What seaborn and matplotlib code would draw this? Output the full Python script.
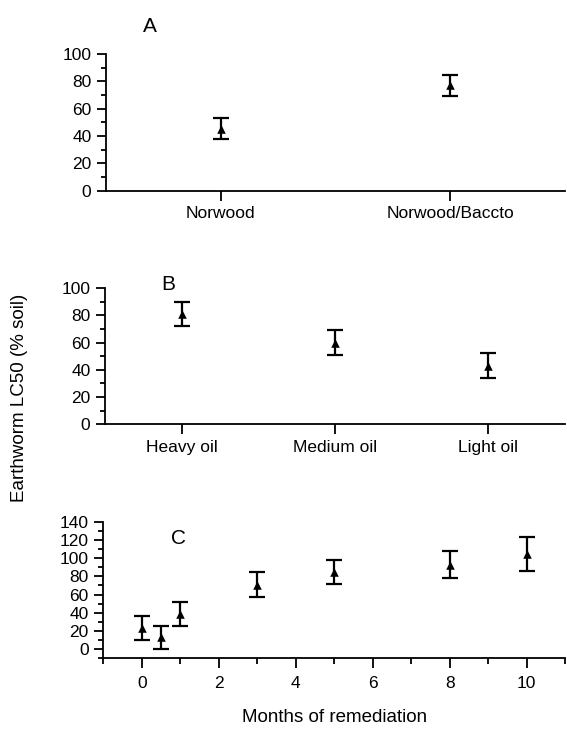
import seaborn as sns
import pandas as pd
import matplotlib.pyplot as plt
from matplotlib.ticker import MultipleLocator

# Panel A - compost treatments
a_cats = ["Norwood", "Norwood/Baccto"]
a_mean = [45.5, 77]
a_err = [8, 8]

# Panel B - oil types
b_cats = ["Heavy oil", "Medium oil", "Light oil"]
b_mean = [81, 60, 43]
b_err = [9, 9, 9]

# Panel C - time course
c_months = [0, 0.5, 1, 3, 5, 8, 10]
c_mean = [23, 13, 39, 71, 85, 93, 104.5]
c_err = [13, 13, 13, 13.5, 13.5, 14.5, 19]

sns.set_theme(style="ticks")
plt.rcParams['font.family'] = ['Liberation Sans', 'DejaVu Sans']
plt.rcParams.update({
    'axes.linewidth': 1.3, 'axes.edgecolor': 'black', 'text.color': 'black',
    'xtick.color': 'black', 'ytick.color': 'black',
    'axes.labelcolor': 'black',
})

fig = plt.figure(figsize=(5.67, 7.31), dpi=100)
ax_a = fig.add_axes([0.1869, 0.7391, 0.8095, 0.187])
ax_b = fig.add_axes([0.1852, 0.4196, 0.8113, 0.1864])
ax_c = fig.add_axes([0.1822, 0.0994, 0.8143, 0.1869])


def draw(ax, x, mean, err):
    df = pd.DataFrame({"x": x, "y": mean})
    ax.errorbar(x, mean, yerr=err, fmt="none", ecolor="black",
                elinewidth=1.6, capsize=5.5, capthick=1.6, zorder=2)
    sns.scatterplot(data=df, x="x", y="y", marker="^", color="black",
                    s=38, edgecolor="black", linewidth=0, ax=ax, zorder=3)
    ax.set_xlabel("")
    ax.set_ylabel("")
    sns.despine(ax=ax)
    ax.yaxis.set_minor_locator(MultipleLocator(10))
    ax.tick_params(axis="y", which="major", length=6.5, width=1.3,
                   labelsize=12.5, pad=4)
    ax.tick_params(axis="y", which="minor", length=3.5, width=1.3)
    ax.tick_params(axis="x", which="major", length=7, width=1.3,
                   labelsize=12.5, pad=4)
    ax.tick_params(axis="x", which="minor", length=4, width=1.3)


draw(ax_a, a_cats, a_mean, a_err)
ax_a.set_xlim(-0.5, 1.5)
ax_a.set_ylim(0, 100)
ax_a.yaxis.set_major_locator(MultipleLocator(20))
ax_a.xaxis.set_minor_locator(plt.NullLocator())

draw(ax_b, b_cats, b_mean, b_err)
ax_b.set_xlim(-0.5, 2.5)
ax_b.set_ylim(0, 100)
ax_b.yaxis.set_major_locator(MultipleLocator(20))
ax_b.xaxis.set_minor_locator(plt.NullLocator())

draw(ax_c, c_months, c_mean, c_err)
ax_c.set_xlim(-1, 11)
ax_c.set_ylim(-10, 140)
ax_c.set_yticks(range(0, 141, 20))
ax_c.xaxis.set_major_locator(MultipleLocator(2))
ax_c.xaxis.set_minor_locator(MultipleLocator(1))
ax_c.tick_params(axis="x", which="major", pad=6)
ax_c.set_xlabel("Months of remediation", fontsize=13.5, labelpad=13)

# panel letters
fig.text(150 / 567, 1 - 27 / 731, "A", fontsize=15, ha="center", va="center")
fig.text(168 / 567, 1 - 285 / 731, "B", fontsize=15, ha="center", va="center")
fig.text(179 / 567, 1 - 539 / 731, "C", fontsize=15, ha="center", va="center")

fig.text(20 / 567, 1 - 398 / 731, "Earthworm LC50 (% soil)", fontsize=13.5,
         rotation=90, ha="center", va="center")

fig.savefig("out.png", dpi=100)
